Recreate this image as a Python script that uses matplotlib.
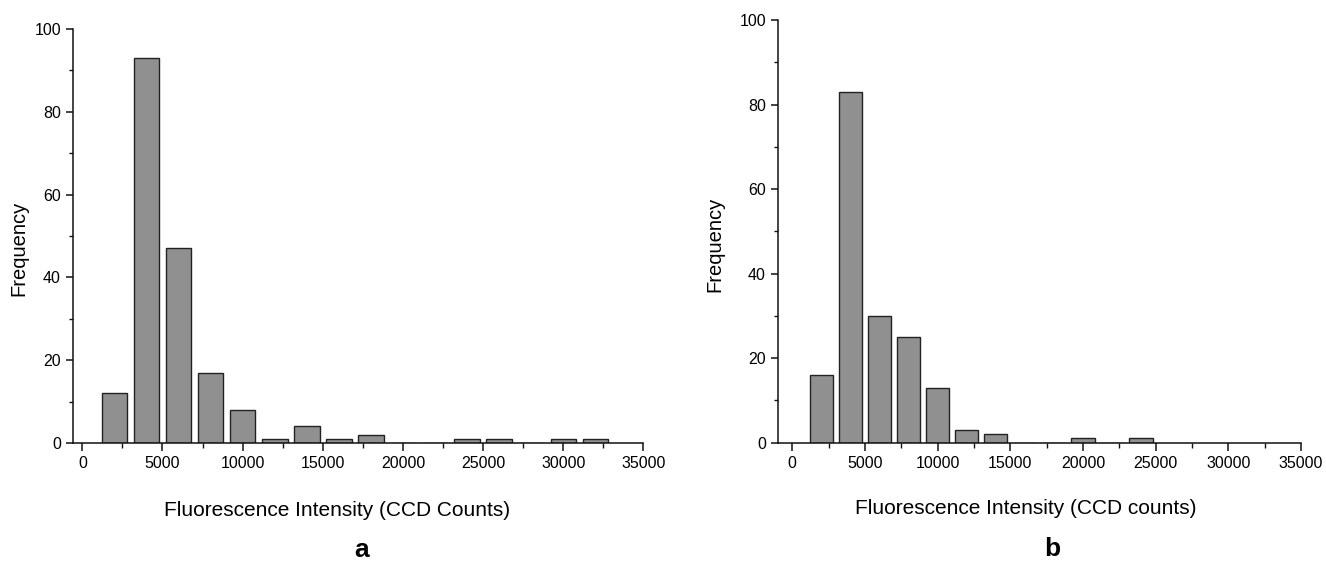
import matplotlib
matplotlib.use("Agg")
import matplotlib.pyplot as plt
from matplotlib.ticker import MultipleLocator

plt.rcParams['font.family'] = ['Liberation Sans', 'DejaVu Sans']

# Data: histogram bin centers (CCD counts) and frequencies
centers_a = [2000, 4000, 6000, 8000, 10000, 12000, 14000, 16000, 18000,
             20000, 22000, 24000, 26000, 28000, 30000, 32000]
freq_a = [12, 93, 47, 17, 8, 1, 4, 1, 2, 0, 0, 1, 1, 0, 1, 1]

centers_b = [2000, 4000, 6000, 8000, 10000, 12000, 14000, 16000, 18000,
             20000, 22000, 24000]
freq_b = [16, 83, 30, 25, 13, 3, 2, 0, 0, 1, 0, 1]

xlabel_a = "Fluorescence Intensity (CCD Counts)"
xlabel_b = "Fluorescence Intensity (CCD counts)"
ylabel = "Frequency"
x_ticks = [0, 5000, 10000, 15000, 20000, 25000, 30000, 35000]
y_ticks = [0, 20, 40, 60, 80, 100]

fig = plt.figure(figsize=(13.26, 5.62), dpi=100)

W, H = 1326, 562
def axes_px(x0, x1, ytop, ybot):
    return fig.add_axes([x0 / W, 1 - ybot / H, (x1 - x0) / W, (ybot - ytop) / H])

ax_a = axes_px(72.7, 643.5, 29, 443)
ax_b = axes_px(777.7, 1301, 20, 442.7)

def style(ax, centers, freq, xmin):
    ax.bar(centers, freq, width=1600, color='#909090', edgecolor='#222222',
           linewidth=1.0, zorder=2)
    ax.set_xlim(xmin, 35000)
    ax.set_ylim(0, 100)
    for s in ['top', 'right']:
        ax.spines[s].set_visible(False)
    for s in ['left', 'bottom']:
        ax.spines[s].set_linewidth(1.1)
        ax.spines[s].set_color('#111111')
    ax.set_xticks(x_ticks)
    ax.set_yticks(y_ticks)
    ax.xaxis.set_minor_locator(MultipleLocator(2500))
    ax.yaxis.set_minor_locator(MultipleLocator(10))
    ax.tick_params(which='major', direction='out', length=6, width=1.1,
                   labelsize=11.5, color='#111111', pad=3.5)
    ax.tick_params(which='minor', direction='out', length=3.5, width=1.0,
                   color='#111111')
    ax.tick_params(axis='y', which='major', length=5, pad=3.5)
    ax.tick_params(axis='y', which='minor', length=3)

style(ax_a, centers_a, freq_a, -600)
style(ax_b, centers_b, freq_b, -1000)

fig.text(19 / W, 1 - 248 / H, ylabel, rotation=90, ha='center', va='center', fontsize=14.5)
fig.text(715 / W, 1 - 244 / H, ylabel, rotation=90, ha='center', va='center', fontsize=14.5)
fig.text(337 / W, 1 - 511 / H, xlabel_a, ha='center', va='center', fontsize=15)
fig.text(1026 / W, 1 - 508 / H, xlabel_b, ha='center', va='center', fontsize=15)
fig.text(362 / W, 1 - 550 / H, "a", ha='center', va='center', fontsize=19, fontweight='bold')
fig.text(1052 / W, 1 - 549 / H, "b", ha='center', va='center', fontsize=19, fontweight='bold')

fig.savefig("out.png", dpi=100)
